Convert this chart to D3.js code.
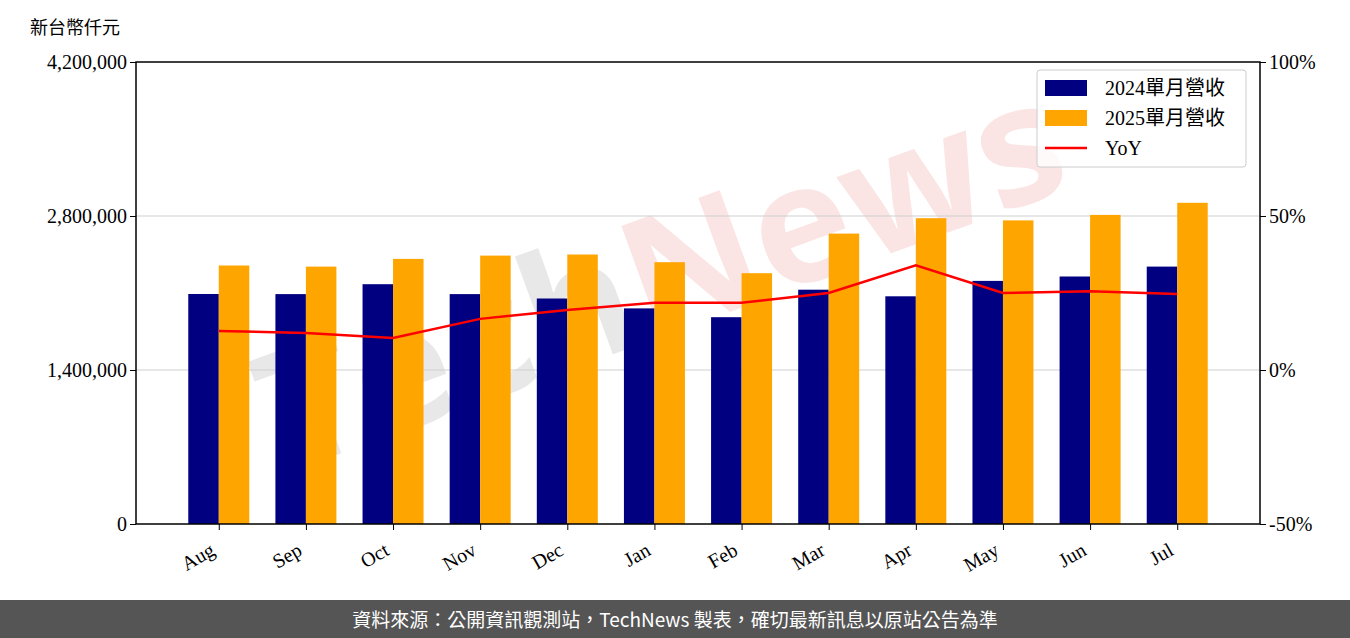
<!DOCTYPE html>
<html><head><meta charset="utf-8">
<script src="https://cdn.jsdelivr.net/npm/d3@7"></script>
<style>body{margin:0;background:#fff}</style>
</head><body><div id="chart"></div>
<script>
// monthly revenue chart
var months = ["Aug","Sep","Oct","Nov","Dec","Jan","Feb","Mar","Apr","May","Jun","Jul"];
var rev2024 = [2091000,2090000,2180000,2090000,2050000,1960000,1880000,2130000,2070000,2210000,2250000,2340000];
var rev2025 = [2350000,2340000,2410000,2440000,2450000,2380000,2280000,2640000,2780000,2760000,2810000,2920000];
var yoy = [12.7,12.0,10.4,16.6,19.5,21.8,21.8,25.0,34.0,25.0,25.6,24.7];
var leftTicks = [0,1400000,2800000,4200000];
var rightTicks = [-50,0,50,100];

var W = 1350, H = 638;
var svg = d3.select("#chart").append("svg").attr("width", W).attr("height", H);
var font = "'Liberation Serif', serif";
var cjk = "'Noto Sans CJK TC', sans-serif";

var x = d3.scaleLinear().domain([-0.95, 11.95]).range([136, 1260]);
var y = d3.scaleLinear().domain([0, 4200000]).range([524, 62]);
var y2 = d3.scaleLinear().domain([-50, 100]).range([524, 62]);

// watermark
var wm = svg.append("text").attr("transform", "translate(680,330) rotate(-20)")
    .attr("text-anchor", "middle").attr("font-family", "'Open Sans', sans-serif")
    .attr("font-weight", "bold").attr("font-size", 165);
wm.append("tspan").attr("fill", "#e8e8e8").text("Tech");
wm.append("tspan").attr("fill", "#fbe4e4").text("News");

// grid
svg.selectAll("line.grid").data([1400000, 2800000]).enter().append("line")
    .attr("x1", 136).attr("x2", 1260).attr("y1", y).attr("y2", y)
    .attr("stroke", "#d0d0d0").attr("stroke-width", 1.2);

var bw = 0.35;
svg.selectAll("rect.a").data(rev2024).enter().append("rect")
    .attr("x", function(d, i) { return x(i - bw); })
    .attr("width", x(bw) - x(0)).attr("y", y).attr("height", function(d) { return 524 - y(d); })
    .attr("fill", "#000080");
svg.selectAll("rect.b").data(rev2025).enter().append("rect")
    .attr("x", function(d, i) { return x(i); })
    .attr("width", x(bw) - x(0)).attr("y", y).attr("height", function(d) { return 524 - y(d); })
    .attr("fill", "#ffa500");

var line = d3.line().x(function(d, i) { return x(i); }).y(function(d) { return y2(d); });
svg.append("path").datum(yoy).attr("d", line).attr("fill", "none")
    .attr("stroke", "#ff0000").attr("stroke-width", 2.5);

// frame
svg.append("rect").attr("x", 136).attr("y", 62).attr("width", 1124).attr("height", 462)
    .attr("fill", "none").attr("stroke", "#000").attr("stroke-width", 1.5);

var la = svg.append("g").attr("transform", "translate(136,0)")
    .call(d3.axisLeft(y).tickValues(leftTicks).tickFormat(d3.format(",")).tickSizeOuter(0).tickSize(6));
var ra = svg.append("g").attr("transform", "translate(1260,0)")
    .call(d3.axisRight(y2).tickValues(rightTicks).tickFormat(function(d) { return d + "%"; }).tickSizeOuter(0).tickSize(6));
var xa = svg.append("g").attr("transform", "translate(0,524)")
    .call(d3.axisBottom(x).tickValues(d3.range(12)).tickFormat(function(i) { return months[i]; }).tickSizeOuter(0).tickSize(6));
[la, ra, xa].forEach(function(a) {
    a.select(".domain").remove();
    a.selectAll("text").attr("font-family", font).attr("font-size", 20).attr("fill", "#000");
});
xa.selectAll("text").attr("text-anchor", "end").attr("dy", null).attr("y", 0)
    .attr("transform", "translate(-3,30) rotate(-30)");

svg.append("text").attr("x", 30).attr("y", 34).attr("font-family", cjk).attr("font-size", 18).text("新台幣仟元");

// legend
var lg = svg.append("g").attr("transform", "translate(1037,70)");
lg.append("rect").attr("width", 209).attr("height", 97).attr("rx", 3)
    .attr("fill", "#fff").attr("fill-opacity", 0.8).attr("stroke", "#ccc");
var items = [["2024單月營收", "#000080", "bar"], ["2025單月營收", "#ffa500", "bar"], ["YoY", "#ff0000", "line"]];
items.forEach(function(it, i) {
    var cy = 18 + i * 30;
    if (it[2] == "bar") lg.append("rect").attr("x", 8).attr("y", cy - 8).attr("width", 42).attr("height", 16).attr("fill", it[1]);
    else lg.append("line").attr("x1", 8).attr("x2", 50).attr("y1", cy).attr("y2", cy).attr("stroke", it[1]).attr("stroke-width", 2.5);
    lg.append("text").attr("x", 68).attr("y", cy + 7).attr("font-family", font + "," + cjk).attr("font-size", 20).text(it[0]);
});

// footer
svg.append("rect").attr("x", 0).attr("y", 600).attr("width", W).attr("height", 38).attr("fill", "#555");
svg.append("text").attr("x", W / 2).attr("y", 627).attr("text-anchor", "middle").attr("fill", "#fff")
    .attr("font-family", cjk).attr("font-size", 19).text("資料來源：公開資訊觀測站，TechNews 製表，確切最新訊息以原站公告為準");
</script></body></html>
